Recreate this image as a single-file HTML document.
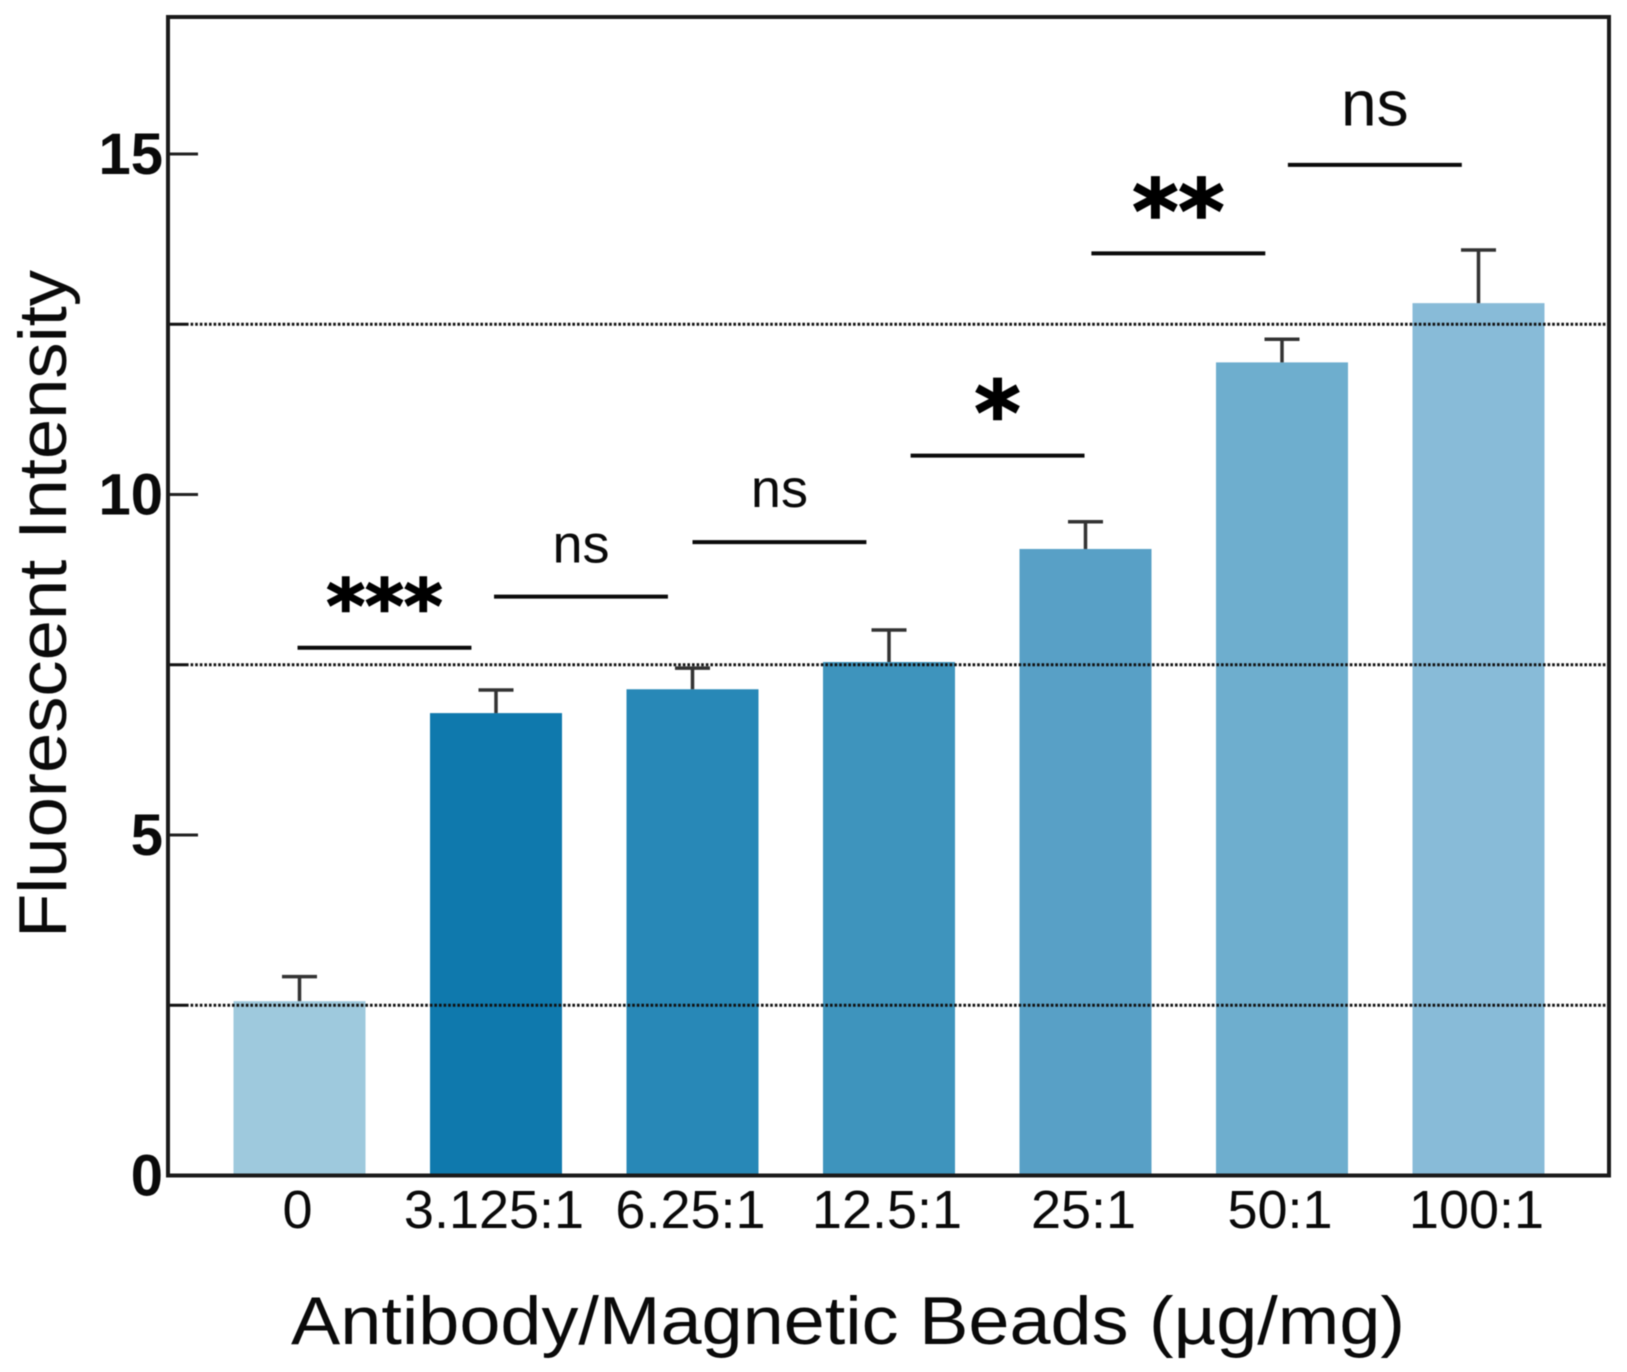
<!DOCTYPE html>
<html lang="en">
<head>
<meta charset="utf-8">
<title>Fluorescent Intensity vs Antibody/Magnetic Beads</title>
<style>
html,body{margin:0;padding:0;background:#fff;width:1627px;height:1372px;overflow:hidden}
svg{display:block;filter:blur(0.6px)}
text{fill:#0a0a0a;font-family:"Liberation Sans",sans-serif}
</style>
</head>
<body>
<svg id="chart" xmlns="http://www.w3.org/2000/svg" width="1627" height="1372" viewBox="0 0 1627 1372">
  <rect x="0" y="0" width="1627" height="1372" fill="#fff"/>
  <g id="bars"></g>
  <g id="grid"></g>
  <g id="axes"></g>
  <g id="sig"></g>
  <text transform="translate(66,604) rotate(-90)" text-anchor="middle" font-size="68" textLength="668" lengthAdjust="spacingAndGlyphs">Fluorescent Intensity</text>
  <text x="848" y="1344" text-anchor="middle" font-size="68" textLength="1114" lengthAdjust="spacingAndGlyphs">Antibody/Magnetic Beads (µg/mg)</text>
</svg>
<script>
const categories = ['0', '3.125:1', '6.25:1', '12.5:1', '25:1', '50:1', '100:1'];
const barValues = [2.56, 6.79, 7.14, 7.54, 9.2, 11.94, 12.81];
const errorTops = [2.92, 7.13, 7.45, 8.01, 9.6, 12.28, 13.59];
const barColors = ['#9ec9dd', '#0f79ad', '#2888b7', '#3e94bd', '#58a0c6', '#6eaece', '#88bbd8'];
const yTicks = [0, 5, 10, 15];
const gridValues = [2.5, 7.5, 12.5];
const sigLabels = ['***', 'ns', 'ns', '*', '**', 'ns'];
const sigLevels = [7.75, 8.5, 9.3, 10.57, 13.54, 14.84];
const sigStarts = [-0.01, 0.99, 2.0, 3.11, 4.03, 5.03];
const sigLabelLevels = [7.98, 9.0, 9.82, 10.74, 13.7, 15.42];
const sigSizes = [74, 54, 54, 88, 88, 64];

const NS = 'http://www.w3.org/2000/svg';
const plot = { left: 168, right: 1609, top: 17, zero: 1175.5, perUnit: 68.1, firstCenter: 299.5, pitch: 196.5, barWidth: 132 };
const xScale = function (c) { return plot.firstCenter + plot.pitch * c; };
const yScale = function (v) { return plot.zero - plot.perUnit * v; };
function make(parent, tag, props, content) {
  const el = document.createElementNS(NS, tag);
  for (const k in props) el.setAttribute(k, props[k]);
  if (content !== undefined) el.textContent = content;
  parent.appendChild(el);
  return el;
}
const barsG = document.getElementById('bars');
const gridG = document.getElementById('grid');
const axesG = document.getElementById('axes');
const sigG = document.getElementById('sig');

categories.forEach(function (cat, i) {
  const cx = xScale(i);
  const bar = make(barsG, 'rect', { x: cx - plot.barWidth / 2, y: yScale(barValues[i]), width: plot.barWidth, height: plot.zero - yScale(barValues[i]), fill: barColors[i] });
  
  
  const stem = make(barsG, 'line', { x1: cx, x2: cx, y1: yScale(barValues[i]), y2: yScale(errorTops[i]), stroke: '#333', 'stroke-width': 3.5 });
  
  
  const cap = make(barsG, 'line', { x1: cx - 17.5, x2: cx + 17.5, y1: yScale(errorTops[i]), y2: yScale(errorTops[i]), stroke: '#333', 'stroke-width': 3.5 });
  
  
  const lab = make(axesG, 'text', { x: cx - 2, y: 1228, 'text-anchor': 'middle', 'font-size': 54 }, cat);
  
  
});

gridValues.forEach(function (v, i) {
  const line = make(gridG, 'line', { x1: plot.left + 18, x2: plot.right - 3, y1: yScale(v), y2: yScale(v), stroke: '#111', 'stroke-width': 3, 'stroke-dasharray': '2.6 2' });
  
  
  const minor = make(gridG, 'line', { x1: plot.left, x2: plot.left + 18, y1: yScale(v), y2: yScale(v), stroke: '#111', 'stroke-width': 3 });
  
  
});

yTicks.forEach(function (v, i) {
  const y = yScale(v);
  if (v !== 0) {
    const tick = make(axesG, 'line', { x1: plot.left, x2: plot.left + 30, y1: y, y2: y, stroke: '#222', 'stroke-width': 3 });
    
    
  }
  const label = make(axesG, 'text', { x: 163, y: y + 20, 'text-anchor': 'end', 'font-size': 58, 'font-weight': 'bold' }, String(v));
  
  
});

const frame = make(axesG, 'rect', { x: plot.left, y: plot.top, width: plot.right - plot.left, height: plot.zero - plot.top, fill: 'none', stroke: '#1a1a1a', 'stroke-width': 4 });



sigLabels.forEach(function (text, i) {
  const x1 = xScale(sigStarts[i]);
  const x2 = xScale(sigStarts[i] + 0.885);
  const y = yScale(sigLevels[i]);
  const bracket = make(sigG, 'line', { x1: x1, x2: x2, y1: y, y2: y, stroke: '#0a0a0a', 'stroke-width': 4 });
  
  
  const isStar = text.indexOf('*') >= 0;
  const props = { x: (x1 + x2) / 2, y: yScale(sigLabelLevels[i]), 'text-anchor': 'middle', 'font-size': sigSizes[i] };
  if (isStar) {
    props['font-weight'] = 'bold';
    props['style'] = 'font-family:"DejaVu Sans",sans-serif;fill:#000;stroke:#000;stroke-width:1.6px';
  }
  const label = make(sigG, 'text', props, text);
  
  
});
</script>
</body>
</html>
